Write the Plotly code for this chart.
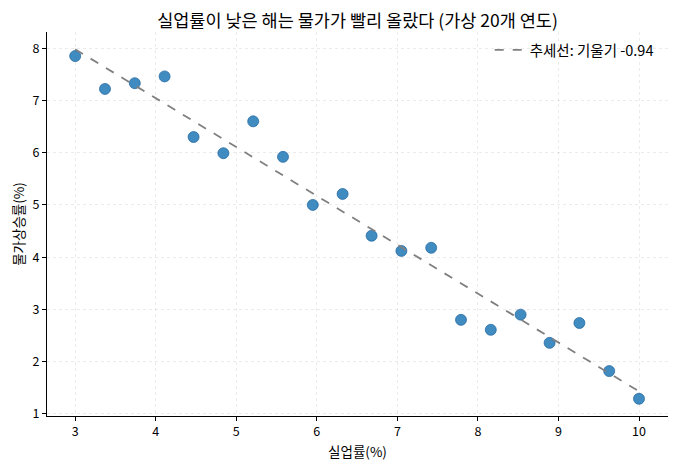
import numpy as np
import plotly.graph_objects as go

# 실업률(%) / 물가상승률(%) - 가상 20개 연도
unemployment = [3.00, 3.37, 3.74, 4.11, 4.47, 4.84, 5.21, 5.58, 5.95, 6.32,
                6.68, 7.05, 7.42, 7.79, 8.16, 8.53, 8.89, 9.26, 9.63, 10.00]
inflation = [7.85, 7.22, 7.33, 7.46, 6.30, 5.99, 6.60, 5.92, 5.00, 5.21,
             4.41, 4.12, 4.18, 2.80, 2.61, 2.90, 2.36, 2.74, 1.82, 1.29]

slope, intercept = np.polyfit(unemployment, inflation, 1)
trend_x = [min(unemployment), max(unemployment)]
trend_y = [slope * v + intercept for v in trend_x]

font = "Noto Sans CJK KR"

fig = go.Figure()
fig.add_trace(go.Scatter(
    x=unemployment, y=inflation, mode="markers",
    marker=dict(size=11, color="rgba(31,119,180,0.85)",
                line=dict(width=0.8, color="rgba(31,100,160,0.9)")),
    showlegend=False))
fig.add_trace(go.Scatter(
    x=trend_x, y=trend_y, mode="lines",
    name=f"추세선: 기울기 {slope:.2f}",
    line=dict(color="gray", width=1.8, dash="dash")))

axis_common = dict(
    showline=True, linecolor="black", linewidth=1,
    ticks="outside", ticklen=4, tickcolor="black",
    showgrid=True, gridcolor="rgba(0,0,0,0.08)", griddash="dot", gridwidth=1,
    zeroline=False, tickfont=dict(size=12.5, color="black"),
    automargin=False,
)

# page body adds 8px, so figure is a bit smaller than the window
fig.update_layout(
    width=669, height=461,
    margin=dict(l=39, r=9, t=24, b=53),
    paper_bgcolor="white", plot_bgcolor="white",
    font=dict(family=font, color="black"),
    title=dict(text="실업률이 낮은 해는 물가가 빨리 올랐다 (가상 20개 연도)",
               xref="paper", x=0.5, xanchor="center",
               yref="container", y=0.972, yanchor="middle",
               font=dict(size=17.5)),
    xaxis=dict(axis_common, range=[2.65, 10.36], dtick=1,
               title=dict(text="실업률(%)", font=dict(size=13.5), standoff=8)),
    yaxis=dict(axis_common, range=[0.96, 8.31], dtick=1,
               title=dict(text="물가상승률(%)", font=dict(size=13.5), standoff=4)),
    legend=dict(x=0.985, y=0.995, xanchor="right", yanchor="top",
                bgcolor="rgba(255,255,255,0)", font=dict(size=14.5)),
)

fig.write_html("out.html")
